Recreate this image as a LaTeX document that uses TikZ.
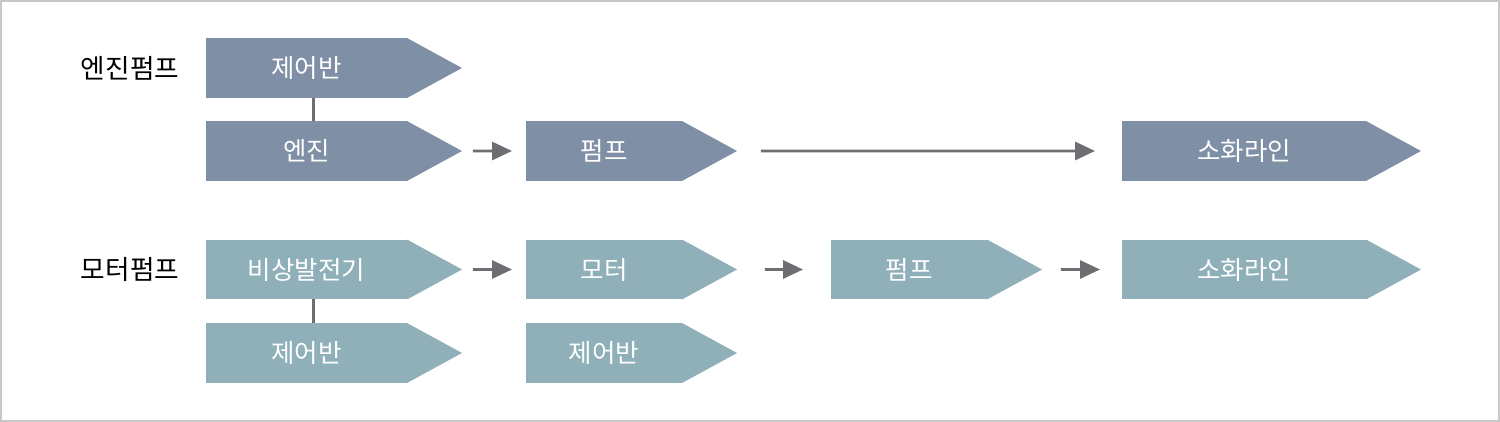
\documentclass[tikz,border=0pt]{standalone}
\usepackage{fontspec}
\setmainfont{Noto Sans CJK KR}
\usetikzlibrary{arrows.meta}
\definecolor{enginecol}{HTML}{7F8FA6}
\definecolor{motorcol}{HTML}{8FB0B9}
\definecolor{flowcol}{HTML}{6D6E71}
\definecolor{framecol}{HTML}{C8C8C8}
\begin{document}
\begin{tikzpicture}[x=0.02cm, y=-0.02cm,
  box/.style={rectangle, minimum height=1.2cm, inner sep=0pt, outer sep=0pt, text=white, font=\fontsize{14.5}{16}\selectfont},
  ebox/.style={box, fill=enginecol},
  mbox/.style={box, fill=motorcol},
  flow/.style={draw=flowcol, line width=1.7pt, -{Triangle[length=0.4cm, width=0.36cm]}},
  link/.style={draw=flowcol, line width=1.5pt},
  rowlabel/.style={font=\fontsize{15.2}{17}\selectfont}]
\useasboundingbox (0,0) rectangle (1500,422);
\draw[framecol, line width=1.2pt] (1,1) rectangle (1499,421);

% Engine pump
\node[rowlabel] (elabel) at (130,68) {엔진펌프};
\node[ebox, minimum width=4.02cm] (ectl) at (306.5,68) {제어반};
\node[ebox, minimum width=4.02cm] (eng) at (306.5,151) {엔진};
\node[ebox, minimum width=3.12cm] (epump) at (604,151) {펌프};
\node[ebox, minimum width=4.88cm] (eline) at (1244,151) {소화라인};
\foreach \n in {ectl,eng,epump,eline}
  \fill[enginecol] (\n.north east) -- ++(55,30) coordinate (\n-tip) -- (\n.south east) -- cycle;

% Motor pump
\node[rowlabel] (mlabel) at (130,270) {모터펌프};
\node[mbox, minimum width=4.02cm] (gen) at (306.5,269.5) {비상발전기};
\node[mbox, minimum width=4.02cm] (gctl) at (306.5,353) {제어반};
\node[mbox, minimum width=3.12cm] (motor) at (604,269.5) {모터};
\node[mbox, minimum width=3.12cm] (mctl) at (604,353) {제어반};
\node[mbox, minimum width=3.12cm] (mpump) at (909,269.5) {펌프};
\node[mbox, minimum width=4.88cm] (mline) at (1244,269.5) {소화라인};
\foreach \n in {gen,gctl,motor,mctl,mpump,mline}
  \fill[motorcol] (\n.north east) -- ++(55,30) coordinate (\n-tip) -- (\n.south east) -- cycle;

\draw[link] ([xshift=0.14cm]ectl.south) -- ([xshift=0.14cm]eng.north);
\draw[link] ([xshift=0.14cm]gen.south) -- ([xshift=0.14cm]gctl.north);

\draw[flow, shorten <=0.22cm, shorten >=0.28cm] (eng-tip) -- (epump.west);
\draw[flow, shorten <=0.48cm, shorten >=0.54cm] (epump-tip) -- (eline.west);
\draw[flow, shorten <=0.22cm, shorten >=0.28cm] (gen-tip) -- (motor.west);
\draw[flow, shorten <=0.56cm, shorten >=0.56cm] (motor-tip) -- (mpump.west);
\draw[flow, shorten <=0.38cm, shorten >=0.44cm] (mpump-tip) -- (mline.west);
\end{tikzpicture}
\end{document}
